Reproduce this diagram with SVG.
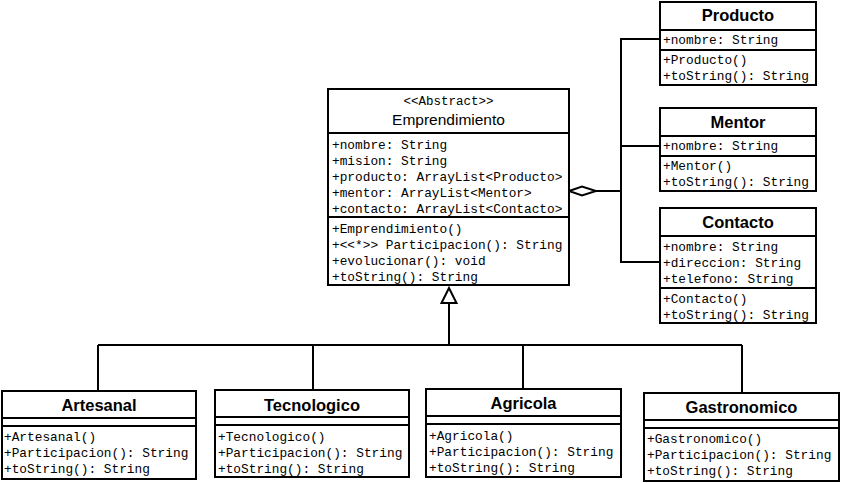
<svg xmlns="http://www.w3.org/2000/svg" width="842" height="483" viewBox="0 0 842 483">
  <style>
    .box { fill: #ffffff; stroke: #000000; stroke-width: 2; }
    .div { stroke: #000000; stroke-width: 2; }
    .line { fill: none; stroke: #000000; stroke-width: 2; }
    .title { font-family: "Liberation Sans", Arial, sans-serif; font-weight: bold; font-size: 16.5px; text-anchor: middle; fill: #000; }
    .name { font-family: "Liberation Sans", Arial, sans-serif; font-size: 15.5px; text-anchor: middle; fill: #000; }
    .mem { font-family: "Liberation Mono", "Courier New", monospace; font-size: 12.8px; fill: #000; }
    .stereo { font-family: "Liberation Mono", "Courier New", monospace; font-size: 12.5px; text-anchor: middle; fill: #000; }
  </style>

  <rect width="842" height="483" fill="#ffffff"/>

  <!-- connectors -->
  <g id="connectors">
    <!-- aggregation from Emprendimiento to Producto / Mentor / Contacto -->
    <polyline class="line" points="596,191 621,191"/>
    <polyline class="line" points="660,39 621,39 621,262 660,262"/>
    <polyline class="line" points="621,146 660,146"/>
    <polygon points="569,191 582,186.5 596,191 582,195.5" fill="#ffffff" stroke="#000" stroke-width="2"/>
    <!-- generalization to Emprendimiento -->
    <polyline class="line" points="449,303 449,345"/>
    <polyline class="line" points="98,345 742,345"/>
    <polyline class="line" points="98,345 98,391"/>
    <polyline class="line" points="313,345 313,390"/>
    <polyline class="line" points="523,345 523,389"/>
    <polyline class="line" points="742,345 742,393"/>
    <polygon points="449,288 441.5,303 456.5,303" fill="#ffffff" stroke="#000" stroke-width="2"/>
  </g>

  <!-- abstract base class -->
  <g id="emprendimiento">
    <rect class="box" x="328" y="89" width="241" height="196"/>
    <line class="div" x1="328" y1="133" x2="569" y2="133"/>
    <line class="div" x1="328" y1="217" x2="569" y2="217"/>
    <text class="stereo" x="448.5" y="105">&lt;&lt;Abstract&gt;&gt;</text>
    <text class="name" x="448.5" y="125">Emprendimiento</text>
    <text class="mem" x="332" y="149">+nombre: String</text>
    <text class="mem" x="332" y="165">+mision: String</text>
    <text class="mem" x="332" y="181">+producto: ArrayList&lt;Producto&gt;</text>
    <text class="mem" x="332" y="197">+mentor: ArrayList&lt;Mentor&gt;</text>
    <text class="mem" x="332" y="213">+contacto: ArrayList&lt;Contacto&gt;</text>
    <text class="mem" x="332" y="233">+Emprendimiento()</text>
    <text class="mem" x="332" y="249">+&lt;&lt;*&gt;&gt; Participacion(): String</text>
    <text class="mem" x="332" y="265">+evolucionar(): void</text>
    <text class="mem" x="332" y="281">+toString(): String</text>
  </g>

  <g id="producto">
    <rect class="box" x="660" y="2" width="156" height="83"/>
    <line class="div" x1="660" y1="30" x2="816" y2="30"/>
    <line class="div" x1="660" y1="50" x2="816" y2="50"/>
    <text class="title" x="738" y="21">Producto</text>
    <text class="mem" x="663" y="44">+nombre: String</text>
    <text class="mem" x="663" y="64">+Producto()</text>
    <text class="mem" x="663" y="80">+toString(): String</text>
  </g>

  <g id="mentor">
    <rect class="box" x="660" y="108" width="156" height="83"/>
    <line class="div" x1="660" y1="136" x2="816" y2="136"/>
    <line class="div" x1="660" y1="156" x2="816" y2="156"/>
    <text class="title" x="738" y="128">Mentor</text>
    <text class="mem" x="663" y="150">+nombre: String</text>
    <text class="mem" x="663" y="170">+Mentor()</text>
    <text class="mem" x="663" y="186">+toString(): String</text>
  </g>

  <g id="contacto">
    <rect class="box" x="660" y="208" width="156" height="115"/>
    <line class="div" x1="660" y1="236" x2="816" y2="236"/>
    <line class="div" x1="660" y1="288" x2="816" y2="288"/>
    <text class="title" x="738" y="228">Contacto</text>
    <text class="mem" x="663" y="251">+nombre: String</text>
    <text class="mem" x="663" y="267">+direccion: String</text>
    <text class="mem" x="663" y="283">+telefono: String</text>
    <text class="mem" x="663" y="303">+Contacto()</text>
    <text class="mem" x="663" y="319">+toString(): String</text>
  </g>

  <g id="artesanal">
    <rect class="box" x="2" y="391" width="194" height="88"/>
    <line class="div" x1="2" y1="418" x2="196" y2="418"/>
    <line class="div" x1="2" y1="426" x2="196" y2="426"/>
    <text class="title" x="99" y="411">Artesanal</text>
    <text class="mem" x="4" y="441">+Artesanal()</text>
    <text class="mem" x="4" y="457">+Participacion(): String</text>
    <text class="mem" x="4" y="473">+toString(): String</text>
  </g>

  <g id="tecnologico">
    <rect class="box" x="215" y="390" width="194" height="87"/>
    <line class="div" x1="215" y1="417" x2="409" y2="417"/>
    <line class="div" x1="215" y1="425" x2="409" y2="425"/>
    <text class="title" x="312" y="411">Tecnologico</text>
    <text class="mem" x="218" y="441">+Tecnologico()</text>
    <text class="mem" x="218" y="457">+Participacion(): String</text>
    <text class="mem" x="218" y="473">+toString(): String</text>
  </g>

  <g id="agricola">
    <rect class="box" x="426" y="389" width="195" height="88"/>
    <line class="div" x1="426" y1="416" x2="621" y2="416"/>
    <line class="div" x1="426" y1="424" x2="621" y2="424"/>
    <text class="title" x="523.5" y="409">Agricola</text>
    <text class="mem" x="429" y="440">+Agricola()</text>
    <text class="mem" x="429" y="456">+Participacion(): String</text>
    <text class="mem" x="429" y="472">+toString(): String</text>
  </g>

  <g id="gastronomico">
    <rect class="box" x="644" y="393" width="195" height="88"/>
    <line class="div" x1="644" y1="420" x2="839" y2="420"/>
    <line class="div" x1="644" y1="428" x2="839" y2="428"/>
    <text class="title" x="741.5" y="413">Gastronomico</text>
    <text class="mem" x="647" y="443">+Gastronomico()</text>
    <text class="mem" x="647" y="459">+Participacion(): String</text>
    <text class="mem" x="647" y="475">+toString(): String</text>
  </g>
</svg>
